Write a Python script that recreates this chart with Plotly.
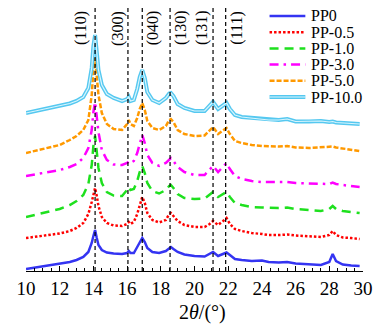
import plotly.graph_objects as go

# 2theta grid (degrees)
two_theta = [10.0, 11.0, 12.0, 12.6, 13.0, 13.4, 13.7, 13.9, 14.0, 14.1, 14.2, 14.3, 14.5, 14.8,
             15.2, 15.7, 16.0, 16.1, 16.2, 16.4, 16.6, 16.75, 16.9, 17.05, 17.2, 17.5, 17.9, 18.3,
             18.5, 18.6, 18.75, 19.0, 19.4, 20.0, 20.6, 20.9, 21.1, 21.4, 21.7, 21.9, 22.1, 22.4,
             22.8, 23.4, 24.0, 24.4, 25.0, 25.5, 26.0, 26.8, 27.5, 28.0, 28.2, 28.4, 28.8, 29.3, 29.8]

# stacked intensities (a.u.)
pp0 = [2, 4.5, 7, 9, 11, 14, 19, 28, 35, 41, 33, 26, 21, 18.5,
       17.5, 17, 18, 20, 18, 18, 24, 29, 33, 29, 23, 19, 18, 20,
       23, 24, 22, 19, 16.5, 15, 14.5, 17, 19, 15, 17, 18.5, 16, 12,
       11, 10, 10.5, 9, 8.5, 9, 7.5, 6.5, 6, 9, 17, 10, 6.5, 5.5, 5]
pp05 = [33, 35, 37.5, 40, 43, 48, 57, 69, 78, 83, 75, 65, 54, 48,
        45.5, 45, 47, 49, 47, 49, 57, 67, 74, 68, 58, 51, 48.5, 51,
        57, 58, 55, 50, 46, 44, 44, 47, 50, 46, 50, 53, 47, 42,
        40, 38, 37, 36, 36, 36.5, 35.5, 34.5, 34, 36, 40, 36, 33.5, 33, 32]
pp10 = [54, 58, 62, 66, 70, 76, 87, 106, 125, 135, 121, 103, 88, 79,
        75.5, 75, 81, 84, 81, 82, 90, 99, 105, 98, 88, 80, 77.5, 81,
        85, 86, 83, 77, 73, 72, 72.5, 76, 79, 74, 77, 79, 74, 68,
        66, 64, 63.5, 63, 63, 63.5, 62, 61, 60, 62, 65, 62, 60, 59, 58]
pp30 = [95, 98, 101, 104, 107, 113, 123, 141, 159, 169, 156, 139, 121, 111,
        106.5, 106, 108, 109.5, 108, 110, 118, 128, 136, 128, 116, 108, 105, 108,
        112, 113, 110, 104, 99, 96, 96, 101, 105, 99, 105, 108, 102, 95,
        92, 90, 89, 89, 89, 89, 88, 87.5, 87, 87, 88.5, 87, 86, 85, 84]
pp50 = [118, 122, 126, 131, 135, 141, 151, 176, 201, 213, 196, 176, 158, 147,
        142, 141, 147, 151, 147, 145, 153, 162, 168, 161, 150, 143, 141, 145,
        151, 152, 149, 141, 137, 135, 135.5, 140, 144, 137, 141, 143, 137, 130,
        128, 126, 125, 124.5, 124.5, 125, 123.5, 123, 124, 124, 124.5, 123.5, 122.5, 121, 120]
pp100 = [158, 161.5, 165, 167.5, 170, 174, 183, 203, 225, 236, 219, 201, 186, 177,
         173, 170, 172, 174, 170, 171, 182, 194, 201, 193, 179, 171, 168, 173,
         177.5, 178, 175, 167, 163, 160, 160, 165, 169, 162, 166, 168, 162, 156,
         154, 153, 152, 151, 151, 152, 149.5, 149.5, 150, 149, 149.5, 148.5, 148, 147.5, 147]

series_names = ["PP0", "PP-0.5", "PP-1.0", "PP-3.0", "PP-5.0", "PP-10.0"]
series_vals = [pp0, pp05, pp10, pp30, pp50, pp100]

# reflections
peak_pos = [14.1, 16.05, 16.9, 18.55, 21.1, 21.85]
peak_lbl = ["(110)", "(300)", "(040)", "(130)", "(131)", "(111)"]
lbl_shift = [-14, -10, 11, 11, -11, 11]

x_ticks = [10, 12, 14, 16, 18, 20, 22, 24, 26, 28, 30]

colors = ["#3434F2", "#FF0000", "#1EE01E", "#FF00FF", "#FF9900", "#55C8F0"]
dashes = ["solid", "2.5px,2px", "9px,6px", "9px,5px,2.5px,5px", "5px,2px", "solid"]
widths = [2.5, 2.5, 2.5, 2.5, 2.5, 4]

SERIF = "Liberation Serif"

fig = go.Figure()
for name, vals, c, d, w in zip(series_names, series_vals, colors, dashes, widths):
    fig.add_trace(go.Scatter(x=two_theta, y=vals, mode="lines", name=name,
                             line=dict(color=c, dash=d, width=w), showlegend=False))
# inner highlight of the double cyan line
fig.add_trace(go.Scatter(x=two_theta, y=pp100, mode="lines", showlegend=False,
                         line=dict(color="#D9F5FD", width=1.2), hoverinfo="skip"))

shapes = []
for p in peak_pos:
    shapes.append(dict(type="line", xref="x", yref="y", x0=p, x1=p, y0=0, y1=263,
                       line=dict(color="black", width=1.2, dash="4px,3px"), layer="above"))

annotations = []
for p, t, s in zip(peak_pos, peak_lbl, lbl_shift):
    annotations.append(dict(x=p, y=243, xref="x", yref="y", text=t, showarrow=False,
                            textangle=-90, xshift=s, font=dict(family=SERIF, size=16, color="black")))

# manual legend (compact spacing as in the reference)
leg_x0, leg_x1, leg_tx = (271 - 26) / 339, (307 - 26) / 339, (311 - 26) / 339
for i, (name, c, d, w) in enumerate(zip(series_names, colors, dashes, widths)):
    yy = 1 - (16 + 16.2 * i - 5) / 266
    shapes.append(dict(type="line", xref="paper", yref="paper", x0=leg_x0, x1=leg_x1, y0=yy, y1=yy,
                       line=dict(color=c, width=w, dash=d)))
    if name == "PP-10.0":
        shapes.append(dict(type="line", xref="paper", yref="paper", x0=leg_x0, x1=leg_x1, y0=yy, y1=yy,
                           line=dict(color="#D9F5FD", width=1.2)))
    annotations.append(dict(x=leg_tx, y=yy, xref="paper", yref="paper", text=name, showarrow=False,
                            xanchor="left", yanchor="middle",
                            font=dict(family=SERIF, size=16, color="black")))

annotations.append(dict(x=(204 - 26) / 339, y=-(312 - 271) / 266, xref="paper", yref="paper",
                        text="2<i>θ</i>/(°)", showarrow=False, xanchor="center", yanchor="middle",
                        font=dict(family=SERIF, size=20, color="black")))

fig.update_layout(
    width=378, height=326, margin=dict(l=26, r=13, t=5, b=55),
    paper_bgcolor="white", plot_bgcolor="white",
    shapes=shapes, annotations=annotations, showlegend=False,
    font=dict(family=SERIF),
    xaxis=dict(range=[10, 30], tickvals=x_ticks, ticks="inside", ticklen=5, tickwidth=1,
               tickcolor="black", showline=True, linecolor="black", linewidth=1,
               showgrid=False, zeroline=False,
               minor=dict(dtick=0.5, ticks="inside", ticklen=3, tickcolor="black", tickwidth=1),
               tickfont=dict(family=SERIF, size=19, color="black")),
    yaxis=dict(range=[0, 266], visible=False, showgrid=False, zeroline=False),
)

fig.write_html("out.html")
